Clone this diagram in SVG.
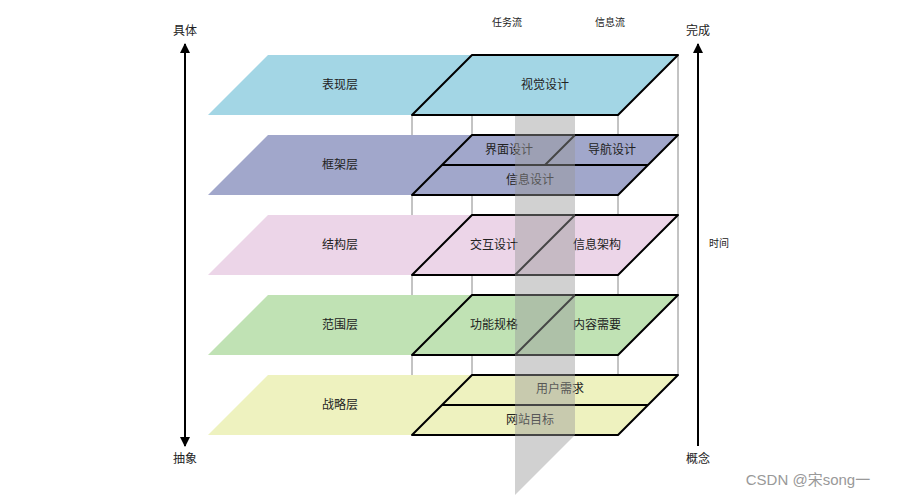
<svg xmlns="http://www.w3.org/2000/svg" width="900" height="500" viewBox="0 0 900 500">
<style>
text{font-family:"Liberation Sans","Noto Sans CJK SC",sans-serif;font-size:12px;fill:#222;text-anchor:middle;dominant-baseline:middle}
.s{font-size:10px}
.v{stroke:#888;stroke-width:1;fill:none}
.b{stroke:#000;stroke-width:2;fill:none;stroke-linejoin:round}
.ax{stroke:#000;stroke-width:2}
</style>
<defs>
<marker id="ah" viewBox="0 0 10 10" refX="9" refY="5" markerWidth="5" markerHeight="5" orient="auto-start-reverse"><path d="M0,0L10,5L0,10z" fill="#000"/></marker>
</defs>
<rect width="900" height="500" fill="#fff"/>
<g id="frame">
<line class="v" x1="412" y1="115" x2="412" y2="435"/>
<line class="v" x1="472" y1="55" x2="472" y2="375"/>
<line class="v" x1="618" y1="115" x2="618" y2="435"/>
<line class="v" x1="678" y1="55" x2="678" y2="375"/>
</g>
<g id="strategy">
<polygon points="268,375 678,375 618,435 208,435" fill="#eef2bf"/>
<polygon class="b" points="472,375 678,375 618,435 412,435"/>
<line class="b" x1="442" y1="405" x2="648" y2="405"/>
<text x="340" y="406">战略层</text><text x="560" y="390">用户需求</text><text x="530" y="421">网站目标</text>
</g>
<g id="scope">
<polygon points="268,295 678,295 618,355 208,355" fill="#c0e2b4"/>
<polygon class="b" points="472,295 678,295 618,355 412,355"/>
<line class="b" x1="515" y1="355" x2="575" y2="295"/>
<text x="340" y="326">范围层</text><text x="494" y="326">功能规格</text><text x="597" y="326">内容需要</text>
</g>
<g id="structure">
<polygon points="268,215 678,215 618,275 208,275" fill="#ecd5e8"/>
<polygon class="b" points="472,215 678,215 618,275 412,275"/>
<line class="b" x1="515" y1="275" x2="575" y2="215"/>
<text x="340" y="246">结构层</text><text x="494" y="246">交互设计</text><text x="597" y="246">信息架构</text>
</g>
<g id="skeleton">
<polygon points="268,135 678,135 618,195 208,195" fill="#a1a7cb"/>
<polygon class="b" points="472,135 678,135 618,195 412,195"/>
<line class="b" x1="442" y1="165" x2="648" y2="165"/>
<line class="b" x1="545" y1="165" x2="575" y2="135"/>
<text x="340" y="166">框架层</text><text x="509" y="151">界面设计</text><text x="612" y="151">导航设计</text><text x="530" y="181">信息设计</text>
</g>
<g id="flow">
<polygon points="515,115 575,115 575,435 515,495" fill="#999" fill-opacity="0.45"/>
</g>
<g id="surface">
<polygon points="268,55 678,55 618,115 208,115" fill="#a3d6e5"/>
<polygon class="b" points="472,55 678,55 618,115 412,115"/>
<text x="340" y="86">表现层</text><text x="545" y="86">视觉设计</text>
</g>
<g id="connectors">
<line class="ax" x1="185" y1="446" x2="185" y2="44" marker-start="url(#ah)" marker-end="url(#ah)"/>
<line class="ax" x1="698" y1="446" x2="698" y2="44" marker-end="url(#ah)"/>
</g>
<g id="labels">
<text x="185" y="32">具体</text><text x="185" y="460">抽象</text>
<text x="698" y="32">完成</text><text x="698" y="460">概念</text>
<text class="s" x="719" y="244">时间</text>
<text class="s" x="507" y="23">任务流</text><text class="s" x="610" y="23">信息流</text>
<text x="808" y="481" style="font-size:15px;fill:#999">CSDN @宋song一</text>
</g>
</svg>
